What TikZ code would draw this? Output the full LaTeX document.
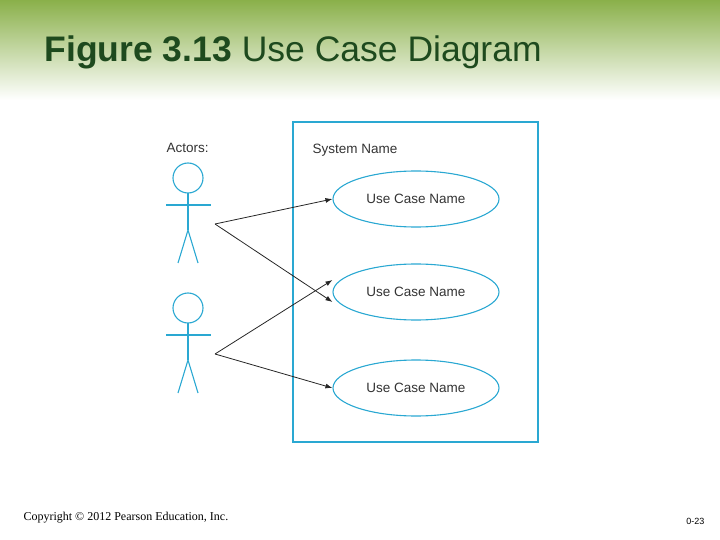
\documentclass[tikz,border=0pt]{standalone}
\usepackage{fontspec}
\usetikzlibrary{shapes.geometric,arrows.meta}
\setmainfont{Liberation Sans}
\newfontfamily\timesf{Liberation Serif}
\definecolor{uc}{HTML}{2AA8D2}
\definecolor{tgreen}{HTML}{1E4A1E}
\definecolor{topg}{HTML}{8AB04A}
\begin{document}
\begin{tikzpicture}[x=1pt,y=-1pt,
  line/.style={draw=uc,line width=1.1pt},
  lbl/.style={font=\fontsize{13.5}{16}\selectfont\color{black!80}},
  usecase/.style={ellipse,draw=uc,line width=1.1pt,minimum width=166pt,minimum height=56pt,lbl},
  arr/.style={-{Latex[length=7pt,width=5pt]},line width=0.8pt,black!85}]
\useasboundingbox (0,0) rectangle (720,540);
\shade[top color=topg,bottom color=white] (0,0) rectangle (720,100);
\node[anchor=west,text=tgreen,font=\fontsize{35.5}{42}\selectfont] (title) at (41,52) {\textbf{Figure 3.13} Use Case Diagram};
\node[anchor=west,lbl] (actors) at (163,148) {Actors:};
\draw[line] (293,122) rectangle (538,442);
\node[anchor=west,lbl] (sys) at (309,150) {System Name};
\node[usecase] (u1) at (416,199) {Use Case Name};
\node[usecase] (u2) at (416,292) {Use Case Name};
\node[usecase] (u3) at (416,388) {Use Case Name};
\foreach \y/\n in {178/a1,308/a2}{
  \draw[line] (188,\y) circle (15);
  \draw[line] (188,\y+15) -- (188,\y+52);
  \draw[line] (166,\y+27) -- (211,\y+27);
  \draw[line] (178,\y+85) -- (188,\y+52) -- (198,\y+85);
  \coordinate (\n) at (215,\y+46);
}
\draw[arr] (a1) -- (u1.west);
\draw[arr] (a1) -- ([yshift=-10]u2.west);
\draw[arr] (a2) -- ([yshift=12]u2.west);
\draw[arr] (a2) -- (u3.west);
\node[anchor=west,font=\timesf\fontsize{12}{14}\selectfont] (copy) at (20,518) {Copyright © 2012 Pearson Education, Inc.};
\node[anchor=east,font=\fontsize{9}{11}\selectfont] (pg) at (708,521) {0-23};
\end{tikzpicture}
\end{document}
